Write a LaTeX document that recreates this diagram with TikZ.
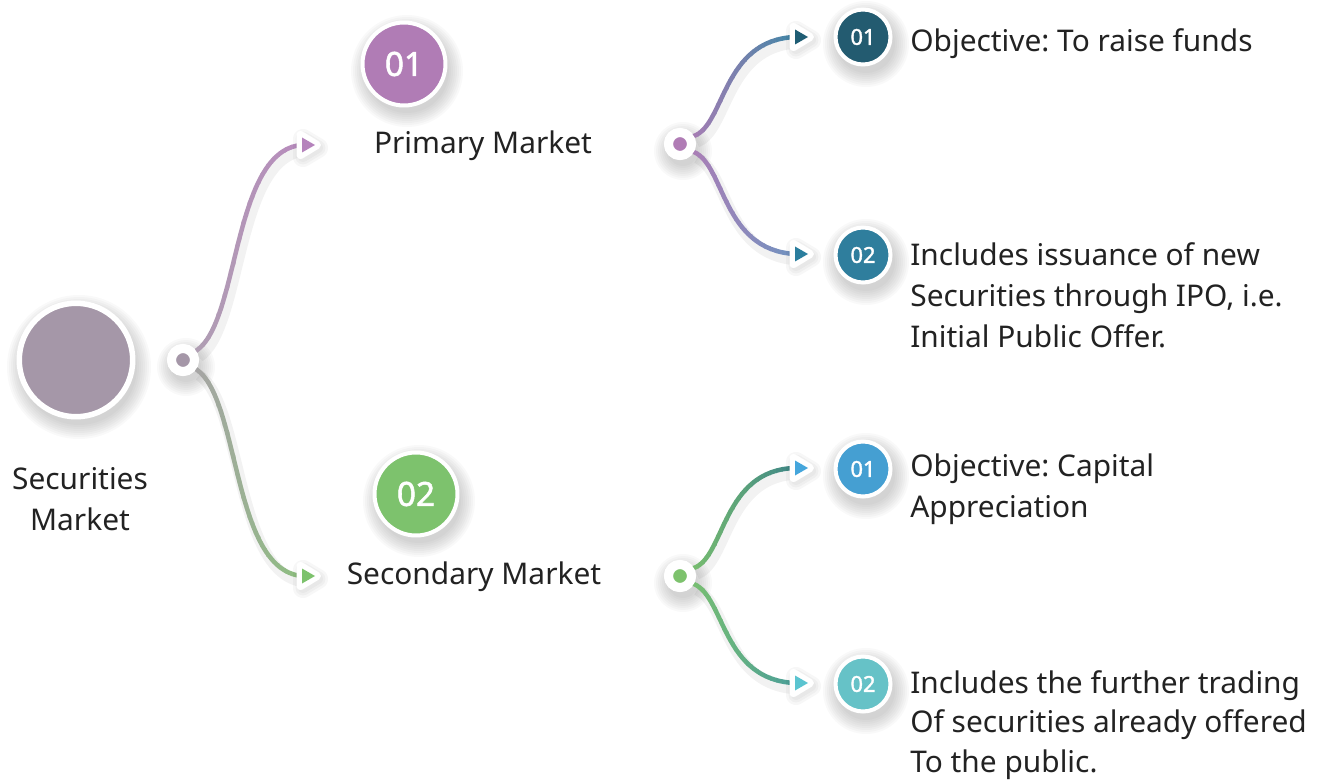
\documentclass[tikz,border=0pt]{standalone}
\usepackage{fontspec}
\setmainfont{Noto Sans}
\newfontfamily\numfont{Noto Sans}[FakeBold=1.6]
\usetikzlibrary{calc}
\definecolor{txt}{HTML}{222222}
\definecolor{cS}{HTML}{A597A8}
\definecolor{cTopA}{HTML}{AFA0B2}
\definecolor{cTopB}{HTML}{B88ABE}
\definecolor{cBotA}{HTML}{A8A2A8}
\definecolor{cBotB}{HTML}{8CC07E}
\definecolor{cP}{HTML}{B07CB5}
\definecolor{cPa}{HTML}{B583BC}
\definecolor{cG}{HTML}{7DC26D}
\definecolor{cUA}{HTML}{3F86A6}
\definecolor{cUB}{HTML}{6F93C0}
\definecolor{cLA}{HTML}{3D8587}
\definecolor{cLB}{HTML}{4A9E99}
\definecolor{cOne}{HTML}{235B70}
\definecolor{cTwo}{HTML}{2F7E9D}
\definecolor{cThree}{HTML}{459FD2}
\definecolor{cFour}{HTML}{66C2C7}
\definecolor{aOne}{HTML}{1F5D74}
\definecolor{aTwo}{HTML}{2B7E9E}
\definecolor{aThree}{HTML}{45A6DC}
\definecolor{aFour}{HTML}{5BC4D0}
\newcommand\blob[3]{\foreach \k in {0,...,7}{\fill[black,opacity=0.022] (#1+3,#2+7) circle[radius=#3+\k*2];}}
\newcommand\gcurve[5]{%
  \draw[black,opacity=0.05,line width=0.22cm,transform canvas={shift={(0.06cm,-0.12cm)}}] #5;
  \foreach \i in {0,...,19}{%
    \pgfmathsetmacro\xa{#1+(#2-#1)*\i/20}%
    \pgfmathsetmacro\xb{#1+(#2-#1)*(\i+1)/20+0.6}%
    \pgfmathtruncatemacro\mx{100-100*\i/19}%
    \begin{scope}\clip (\xa,-50) rectangle (\xb,850);
      \draw[conn,draw=#3!\mx!#4] #5;
    \end{scope}}}
\newcommand\arrowmark[2]{%
  \foreach \k in {0,1,2}{\draw[black,opacity=0.03,fill,line width=0.2cm+\k*0.1cm,line join=round] ([shift={(1,-6)}]#1) -- ([shift={(16,3)}]#1) -- ([shift={(1,12)}]#1) -- cycle;}
  \filldraw[white,line width=0.16cm,line join=round] ([shift={(-1.5,-10)}]#1) -- ([shift={(15,0)}]#1) -- ([shift={(-1.5,10)}]#1) -- cycle;
  \fill[#2] ([shift={(0,-7.5)}]#1) -- ([shift={(13,0)}]#1) -- ([shift={(0,7.5)}]#1) -- cycle;}
\begin{document}
\frenchspacing
\begin{tikzpicture}[x=0.02cm,y=-0.02cm,
  conn/.style={line width=0.09cm,line cap=round},
  ring/.style={circle,draw=white,inner sep=0pt,text=white},
  bigc/.style={ring,line width=0.11cm,minimum size=2.27cm},
  numc/.style={ring,line width=0.08cm,minimum size=1.66cm,font=\numfont\fontsize{19}{20}\selectfont},
  smallc/.style={ring,line width=0.08cm,minimum size=1.1cm,font=\numfont\fontsize{12.5}{14}\selectfont},
  dotc/.style={ring,line width=0.18cm,minimum size=0.46cm},
  lbl/.style={text=txt,inner sep=0pt,font=\fontsize{17}{23.3}\selectfont}]
\useasboundingbox (0,0) rectangle (1322,780);
% shadows
\blob{76}{360}{58}
\blob{404}{64}{42}
\blob{416}{494}{42}
\blob{863}{37}{29}
\blob{863}{255}{29}
\blob{863}{469}{29}
\blob{863}{684}{29}
\blob{183}{360}{15}
\blob{680}{144}{15}
\blob{680}{576}{15}
% nodes
\node[bigc,fill=cS] (root) at (76,360) {};
\node[dotc,fill=cS] (d0) at (183,360) {};
\node[dotc,fill=cP] (dP) at (680,144) {};
\node[dotc,fill=cG] (dG) at (680,576) {};
\coordinate (aP) at (302,145);
\coordinate (aG) at (302,576);
\coordinate (a1) at (795,37);
\coordinate (a2) at (795,254);
\coordinate (a3) at (795,468);
\coordinate (a4) at (795,683);
% connectors
\gcurve{185}{310}{cTopA}{cTopB}{(d0.35) .. controls (240,322) and (232,150) .. (aP)}
\gcurve{185}{310}{cBotA}{cBotB}{(d0.-35) .. controls (240,398) and (232,570) .. (aG)}
\gcurve{680}{800}{cP}{cUA}{(dP.30) .. controls (725,125) and (722,40) .. (a1)}
\gcurve{680}{800}{cP}{cUB}{(dP.-30) .. controls (725,165) and (722,250) .. (a2)}
\gcurve{680}{800}{cG}{cLA}{(dG.30) .. controls (725,557) and (722,470) .. (a3)}
\gcurve{680}{800}{cG}{cLB}{(dG.-30) .. controls (725,597) and (722,680) .. (a4)}
% redraw dots over curves
\node[dotc,fill=cS] at (d0) {};
\node[dotc,fill=cP] at (dP) {};
\node[dotc,fill=cG] at (dG) {};
\arrowmark{aP}{cPa}
\arrowmark{aG}{cG}
\arrowmark{a1}{aOne}
\arrowmark{a2}{aTwo}
\arrowmark{a3}{aThree}
\arrowmark{a4}{aFour}
\node[numc,fill=cP] (n1) at (404,64) {01};
\node[numc,fill=cG] (n2) at (416,494) {02};
\node[smallc,fill=cOne] (s1) at (863,37) {01};
\node[smallc,fill=cTwo] (s2) at (863,255) {02};
\node[smallc,fill=cThree] (s3) at (863,469) {01};
\node[smallc,fill=cFour] (s4) at (863,684) {02};
% labels
\node[lbl,align=center] (tS) at (80,499) {Securities\\Market};
\node[lbl] (tP) at (483,146) {Primary Market};
\node[lbl] (tG) at (474,577) {Secondary Market};
\node[lbl,anchor=west] (t1) at (910,44) {Objective: To raise funds};
\node[lbl,anchor=west,align=left] (t2) at (910,295) {Includes issuance of new\\Securities through IPO, i.e.\\Initial Public Offer.};
\node[lbl,anchor=west,align=left] (t3) at (910,489) {Objective: Capital\\Appreciation};
\node[lbl,anchor=west,align=left,font=\fontsize{17}{22.5}\selectfont] (t4) at (910,725) {Includes the further trading\\Of securities already offered\\To the public.};
\end{tikzpicture}
\end{document}
